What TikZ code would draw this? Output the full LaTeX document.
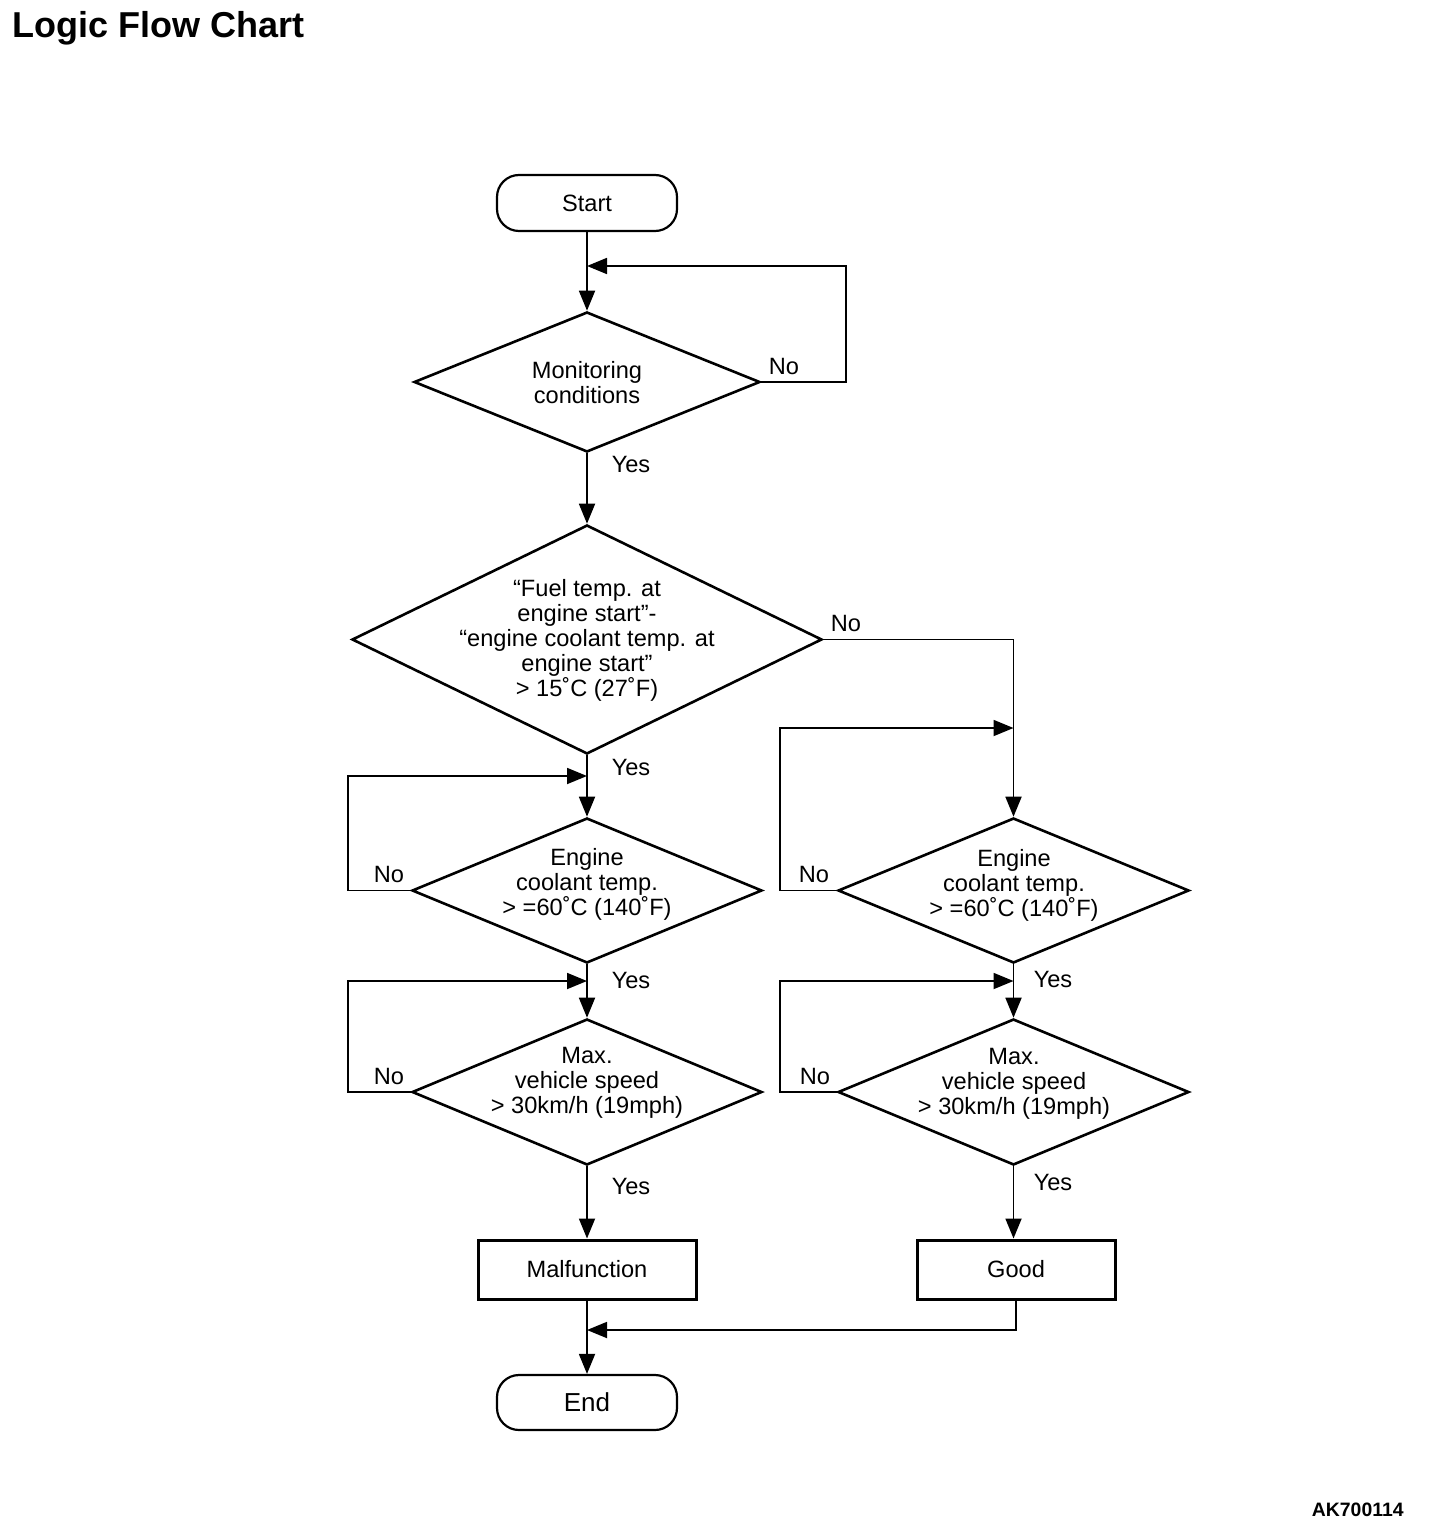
\documentclass[tikz,border=0pt]{standalone}
\usepackage{fontspec}
\setmainfont{Liberation Sans}
\usetikzlibrary{shapes.geometric,arrows.meta}
\begin{document}
\begin{tikzpicture}[x=0.5pt,y=-0.5pt,
  every node/.style={font=\fontsize{11.8}{12.5}\selectfont},
  dia/.style={draw,diamond,line width=1.3pt,inner sep=0pt},
  term/.style={draw,rectangle,rounded corners=11pt,line width=1.1pt,minimum width=90pt,inner sep=0pt},
  proc/.style={draw,rectangle,line width=1.5pt,minimum height=29.5pt,inner sep=0pt},
  txt/.style={align=center,inner sep=0pt},
  lbl/.style={inner sep=0pt},
  arr/.style={line width=0.9pt,-{Triangle[length=10pt,width=8pt]}},
  ln/.style={line width=0.9pt}]
\useasboundingbox (0,0) rectangle (1440,1534);
% title and code
\node[anchor=base west,inner sep=0pt,font=\fontsize{18}{20}\selectfont\bfseries] (title) at (12,38) {Logic Flow Chart};
\node[anchor=base east,inner sep=0pt,font=\fontsize{9.7}{11}\selectfont\bfseries] (code) at (1404,1516) {AK700114};
% nodes
\node[term,minimum height=28pt] (start) at (587,203) {Start};
\node[dia,minimum width=173pt,minimum height=70pt] (d1) at (587,382) {};
\node[txt] (t1) at (587,383) {Monitoring\\conditions};
\node[dia,minimum width=235pt,minimum height=114.5pt] (d2) at (587,639.5) {};
\node[txt] (t2) at (587,640.5) {“Fuel temp. at\\engine start”-\\“engine coolant temp. at\\engine start”\\> 15˚C (27˚F)};
\node[dia,minimum width=175pt,minimum height=72.5pt] (d3) at (587,890.5) {};
\node[txt] (t3) at (587,884) {Engine\\coolant temp.\\> =60˚C (140˚F)};
\node[dia,minimum width=175.5pt,minimum height=72.5pt] (d4) at (1013.5,890.5) {};
\node[txt] (t4) at (1014,885.5) {Engine\\coolant temp.\\> =60˚C (140˚F)};
\node[dia,minimum width=175pt,minimum height=73pt] (d5) at (587,1092) {};
\node[txt] (t5) at (587,1083) {Max.\\vehicle speed\\> 30km/h (19mph)};
\node[dia,minimum width=175.5pt,minimum height=73pt] (d6) at (1013.5,1092) {};
\node[txt] (t6) at (1014,1083.5) {Max.\\vehicle speed\\> 30km/h (19mph)};
\node[proc,minimum width=109pt] (malf) at (587,1269.5) {Malfunction};
\node[proc,minimum width=99pt] (good) at (1016,1269.5) {Good};
\node[term,minimum height=27.5pt,font=\fontsize{13}{14}\selectfont] (end) at (587,1402.5) {End};
% junction coordinates
\coordinate (j1) at (587,266);
\coordinate (j2) at (587,776);
\coordinate (j3) at (587,981);
\coordinate (j4) at (1013.5,728);
\coordinate (j5) at (1013.5,981);
\coordinate (j6) at (587,1330);
% connectors
\draw[arr] (start.south) -- (d1.north);
\draw[arr] (d1.east) -- ++(85,0) |- (j1);
\draw[arr] (d1.south) -- (d2.north);
\draw[arr] (d2.east) -| (d4.north);
\draw[arr] (d2.south) -- (d3.north);
\draw[arr] (d3.west) -- ++(-63,0) |- (j2);
\draw[arr] (d3.south) -- (d5.north);
\draw[arr] (d5.west) -- ++(-63,0) |- (j3);
\draw[arr] (d5.south) -- (malf.north);
\draw[arr] (malf.south) -- (end.north);
\draw[arr] (d4.west) -- ++(-57,0) |- (j4);
\draw[arr] (d4.south) -- (d6.north);
\draw[arr] (d6.west) -- ++(-57,0) |- (j5);
\draw[arr] (d6.south) -- (d6.south |- good.north);
\draw[arr] (good.south) |- (j6);
% labels
\node[lbl] (n1) at (784,366) {No};
\node[lbl] (y1) at (631,464) {Yes};
\node[lbl] (n2) at (846,623) {No};
\node[lbl] (y2) at (631,767) {Yes};
\node[lbl] (n3) at (389,874) {No};
\node[lbl] (y3) at (631,980) {Yes};
\node[lbl] (n5) at (389,1076) {No};
\node[lbl] (y5) at (631,1186) {Yes};
\node[lbl] (n4) at (814,874) {No};
\node[lbl] (y4) at (1053,979) {Yes};
\node[lbl] (n6) at (815,1076) {No};
\node[lbl] (y6) at (1053,1182) {Yes};
\end{tikzpicture}
\end{document}
